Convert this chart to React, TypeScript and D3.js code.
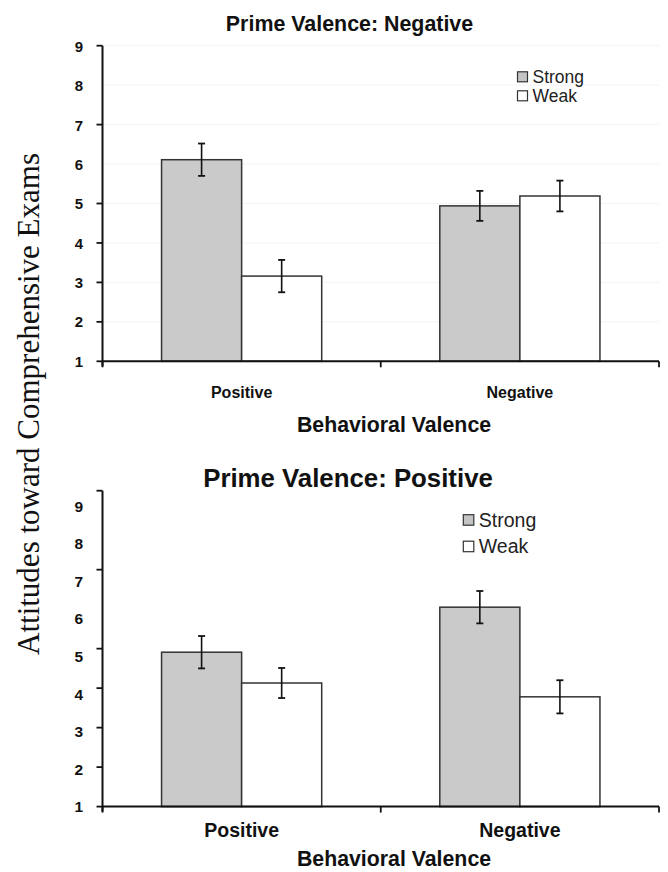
import React from "react";
import * as d3 from "d3";

// ---- Data ----
const categories = ["Positive", "Negative"];
const series = ["Strong", "Weak"];
const yTickValues = [1, 2, 3, 4, 5, 6, 7, 8, 9];
const yTickMarks = [1, 2, 3, 4, 5, 7, 9];

// Prime Valence: Negative
const negStrong = [6.11, 4.94];
const negStrongErr = [0.41, 0.38];
const negWeak = [3.16, 5.19];
const negWeakErr = [0.41, 0.39];

// Prime Valence: Positive
const posStrong = [4.91, 6.05];
const posStrongErr = [0.41, 0.41];
const posWeak = [4.13, 3.78];
const posWeakErr = [0.38, 0.42];

const titleNeg = "Prime Valence: Negative";
const titlePos = "Prime Valence: Positive";
const xTitle = "Behavioral Valence";
const yTitle = "Attitudes toward Comprehensive Exams";

const fills: Record<string, string> = { Strong: "#cacaca", Weak: "#ffffff" };
const SANS = "'Liberation Sans', Arial, sans-serif";

type PanelProps = {
  strong: number[];
  strongErr: number[];
  weak: number[];
  weakErr: number[];
  title: string;
  titleSize: number;
  titleX: number;
  titleY: number;
  yTop: number;
  yBottom: number;
  labelTop: number;
  labelBottom: number;
  tickFont: number;
  xLabelSize: number;
  xLabelY: number;
  xTitleY: number;
  legendX: number;
  legendY: number;
  legendGap: number;
  legendFont: number;
  legendSq: number;
  grid: boolean;
};

function Panel(p: PanelProps) {
  const x0 = 102.5;
  const x1 = 659;
  const x = d3.scaleBand().domain(categories).range([x0, x1]).padding(0);
  const xs = d3
    .scaleBand()
    .domain(series)
    .range([0, x.bandwidth()])
    .paddingInner(0)
    .paddingOuter(0.7375);
  const y = d3.scaleLinear().domain([1, 9]).range([p.yBottom, p.yTop]);
  const yLab = d3.scaleLinear().domain([1, 9]).range([p.labelBottom, p.labelTop]);

  const vals: Record<string, number[]> = { Strong: p.strong, Weak: p.weak };
  const errs: Record<string, number[]> = { Strong: p.strongErr, Weak: p.weakErr };

  const xBoundaries = [x0, ...categories.map((c) => (x(c) as number) + x.bandwidth())];

  return (
    <g>
      <text
        x={p.titleX}
        y={p.titleY}
        textAnchor="middle"
        fontFamily={SANS}
        fontWeight="bold"
        fontSize={p.titleSize}
        fill="#111"
      >
        {p.title}
      </text>

      {p.grid &&
        yTickValues.slice(1).map((v) => (
          <line key={"g" + v} x1={x0} x2={x1} y1={y(v)} y2={y(v)} stroke="#f3f3f3" strokeWidth={1} />
        ))}

      {/* bars */}
      {categories.map((c, i) =>
        series.map((s) => {
          const bx = (x(c) as number) + (xs(s) as number);
          const bw = xs.bandwidth();
          const v = vals[s][i];
          const e = errs[s][i];
          const cx = bx + bw / 2;
          return (
            <g key={c + s}>
              <rect
                x={bx}
                y={y(v)}
                width={bw}
                height={y(1) - y(v)}
                fill={fills[s]}
                stroke="#333"
                strokeWidth={1.5}
              />
              <line x1={cx} x2={cx} y1={y(v + e)} y2={y(v - e)} stroke="#111" strokeWidth={1.6} />
              <line x1={cx - 3.5} x2={cx + 3.5} y1={y(v + e)} y2={y(v + e)} stroke="#111" strokeWidth={1.8} />
              <line x1={cx - 3.5} x2={cx + 3.5} y1={y(v - e)} y2={y(v - e)} stroke="#111" strokeWidth={1.8} />
            </g>
          );
        })
      )}

      {/* y axis */}
      <line x1={x0} x2={x0} y1={y(9)} y2={y(1) + 5} stroke="#111" strokeWidth={2} />
      {yTickMarks.map((v) => (
        <line key={"t" + v} x1={x0 - 6} x2={x0} y1={y(v)} y2={y(v)} stroke="#111" strokeWidth={1.8} />
      ))}
      {yTickValues.map((v) => (
        <text
          key={"l" + v}
          x={83}
          y={yLab(v)}
          dy="0.36em"
          textAnchor="end"
          fontFamily={SANS}
          fontWeight="bold"
          fontSize={p.tickFont}
          fill="#111"
        >
          {v}
        </text>
      ))}

      {/* x axis */}
      <line x1={x0} x2={x1} y1={y(1)} y2={y(1)} stroke="#111" strokeWidth={2} />
      {xBoundaries.map((bx, i) => (
        <line key={"xt" + i} x1={bx} x2={bx} y1={y(1)} y2={y(1) + 6} stroke="#111" strokeWidth={1.8} />
      ))}
      {categories.map((c) => (
        <text
          key={"xl" + c}
          x={(x(c) as number) + x.bandwidth() / 2}
          y={p.xLabelY}
          textAnchor="middle"
          fontFamily={SANS}
          fontWeight="bold"
          fontSize={p.xLabelSize}
          fill="#111"
        >
          {c}
        </text>
      ))}
      <text
        x={394}
        y={p.xTitleY}
        textAnchor="middle"
        fontFamily={SANS}
        fontWeight="bold"
        fontSize={21.3}
        fill="#111"
      >
        {xTitle}
      </text>

      {/* legend */}
      {series.map((s, i) => (
        <g key={"lg" + s}>
          <rect
            x={p.legendX}
            y={p.legendY + i * p.legendGap - p.legendSq - 1.5}
            width={p.legendSq}
            height={p.legendSq}
            fill={fills[s] === "#ffffff" ? "#ffffff" : "#c4c4c4"}
            stroke="#333"
            strokeWidth={1.2}
          />
          <text
            x={p.legendX + p.legendSq + 5}
            y={p.legendY + i * p.legendGap}
            fontFamily={SANS}
            fontSize={p.legendFont}
            fill="#222"
          >
            {s}
          </text>
        </g>
      ))}
    </g>
  );
}

export default function App() {
  return (
    <svg
      width={668}
      height={872}
      viewBox="0 0 668 872"
      style={{ position: "absolute", left: 0, top: 0, display: "block", background: "#fff" }}
    >
      <rect x={0} y={0} width={668} height={872} fill="#fff" />
      <Panel
        strong={negStrong}
        strongErr={negStrongErr}
        weak={negWeak}
        weakErr={negWeakErr}
        title={titleNeg}
        titleSize={21.4}
        titleX={349.5}
        titleY={30.7}
        yTop={45.7}
        yBottom={361.3}
        labelTop={46.7}
        labelBottom={361.3}
        tickFont={15}
        xLabelSize={16}
        xLabelY={397.7}
        xTitleY={432.3}
        legendX={517.5}
        legendY={83.3}
        legendGap={19}
        legendFont={17.5}
        legendSq={10}
        grid={true}
      />
      <Panel
        strong={posStrong}
        strongErr={posStrongErr}
        weak={posWeak}
        weakErr={posWeakErr}
        title={titlePos}
        titleSize={25.8}
        titleX={348}
        titleY={486.7}
        yTop={490.7}
        yBottom={806.6}
        labelTop={506}
        labelBottom={806.7}
        tickFont={15.5}
        xLabelSize={19.5}
        xLabelY={836.7}
        xTitleY={866}
        legendX={463.3}
        legendY={526.7}
        legendGap={26.5}
        legendFont={19.5}
        legendSq={10.5}
        grid={false}
      />
      <text
        transform="translate(38.5,404) rotate(-90)"
        textAnchor="middle"
        fontFamily="'Liberation Serif', 'Times New Roman', serif"
        fontSize={31}
        fill="#111"
      >
        {yTitle}
      </text>
    </svg>
  );
}
